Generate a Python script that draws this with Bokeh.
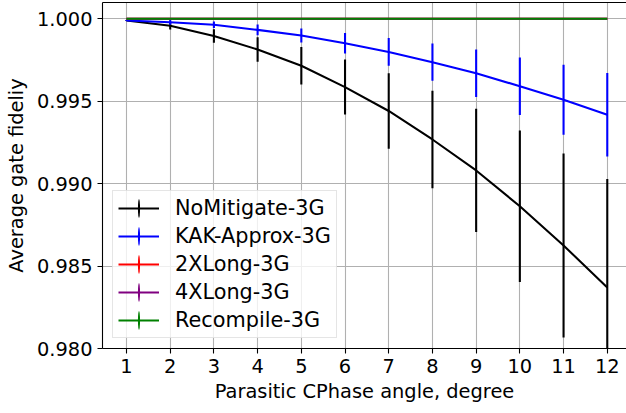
import numpy as np
from bokeh.plotting import figure
from bokeh.models import (ColumnDataSource, Range1d, FixedTicker, PrintfTickFormatter,
                          LinearAxis, Legend, LegendItem)
from bokeh.embed import file_html
from bokeh.resources import INLINE

# Parasitic CPhase angle (degrees)
angles = [1, 2, 3, 4, 5, 6, 7, 8, 9, 10, 11, 12]

# Average gate fidelity (mean) and its spread for each mitigation strategy
nomitigate_mean = [0.99990, 0.99958, 0.99896, 0.99814, 0.99715, 0.99586,
                   0.99441, 0.99268, 0.99080, 0.98863, 0.98625, 0.98370]
nomitigate_err = [0.00003, 0.00023, 0.00041, 0.00074, 0.00114, 0.00167,
                  0.00229, 0.00296, 0.00374, 0.00460, 0.00558, 0.00659]

kak_mean = [0.99990, 0.99979, 0.99964, 0.99933, 0.99899, 0.99852,
            0.99799, 0.99737, 0.99670, 0.99591, 0.99509, 0.99418]
kak_err = [0.00003, 0.00015, 0.00020, 0.00033, 0.00042, 0.00062,
           0.00084, 0.00113, 0.00144, 0.00174, 0.00212, 0.00253]

long2_mean = [1.0, 1.0, 1.0, 1.0, 1.0, 1.0, 1.0, 1.0, 1.0, 1.0, 1.0, 1.0]
long2_err = [0.0, 0.0, 0.0, 0.0, 0.0, 0.0, 0.0, 0.0, 0.0, 0.0, 0.0, 0.0]

long4_mean = [1.0, 1.0, 1.0, 1.0, 1.0, 1.0, 1.0, 1.0, 1.0, 1.0, 1.0, 1.0]
long4_err = [0.0, 0.0, 0.0, 0.0, 0.0, 0.0, 0.0, 0.0, 0.0, 0.0, 0.0, 0.0]

recompile_mean = [1.0, 1.0, 1.0, 1.0, 1.0, 1.0, 1.0, 1.0, 1.0, 1.0, 1.0, 1.0]
recompile_err = [0.0, 0.0, 0.0, 0.0, 0.0, 0.0, 0.0, 0.0, 0.0, 0.0, 0.0, 0.0]

series_names = ["NoMitigate-3G", "KAK-Approx-3G", "2XLong-3G", "4XLong-3G", "Recompile-3G"]
series_colors = ["#000000", "#0000ff", "#ff0000", "#800080", "#008000"]
series_means = [nomitigate_mean, kak_mean, long2_mean, long4_mean, recompile_mean]
series_errs = [nomitigate_err, kak_err, long2_err, long4_err, recompile_err]

y_ticks = [0.980, 0.985, 0.990, 0.995, 1.000]

FONT = "DejaVu Sans"
FS = "19.4px"
LEGEND_FS = "20.8px"
LW = 2.08

p = figure(width=626, height=413, output_backend="svg", toolbar_location=None,
           x_range=Range1d(0.451, 12.44), y_range=Range1d(0.98, 1.00099),
           min_border_left=102, min_border_right=0, min_border_top=2, min_border_bottom=65,
           background_fill_color="white", border_fill_color="white")
p.outline_line_color = None

# grid
for g in (p.xgrid, p.ygrid):
    g.grid_line_color = "#b0b0b0"
    g.grid_line_width = 1.1
p.xgrid.ticker = FixedTicker(ticks=angles)
p.ygrid.ticker = FixedTicker(ticks=y_ticks)

# axes
for ax in (p.xaxis[0], p.yaxis[0]):
    ax.axis_line_color = "black"
    ax.axis_line_width = 1.1
    ax.major_tick_line_color = "black"
    ax.major_tick_line_width = 1.1
    ax.major_tick_out = 5
    ax.major_tick_in = 0
    ax.minor_tick_line_color = None
    ax.major_label_text_font = FONT
    ax.major_label_text_font_size = FS
    ax.major_label_text_color = "black"
    ax.axis_label_text_font = FONT
    ax.axis_label_text_font_size = FS
    ax.axis_label_text_font_style = "normal"
    ax.axis_label_text_color = "black"
    ax.major_label_standoff = 5

p.xaxis[0].ticker = FixedTicker(ticks=angles)
p.xaxis[0].axis_label = "Parasitic CPhase angle, degree"
p.xaxis[0].axis_label_standoff = 4
p.yaxis[0].ticker = FixedTicker(ticks=y_ticks)
p.yaxis[0].formatter = PrintfTickFormatter(format="%.3f")
p.yaxis[0].axis_label = "Average gate fideliy"
p.yaxis[0].axis_label_standoff = 6

# top frame edge
top_axis = LinearAxis(ticker=FixedTicker(ticks=[]), major_tick_out=0, major_tick_in=0,
                      major_label_standoff=0, major_label_text_font_size="0px",
                      axis_line_color="black", axis_line_width=1.1)
p.add_layout(top_axis, "above")

legend_items = []
for name, color, mean, err in zip(series_names, series_colors, series_means, series_errs):
    m = np.array(mean)
    e = np.array(err)
    src = ColumnDataSource(dict(x=angles, y=m, lo=m - e, hi=m + e))
    line_r = p.line("x", "y", source=src, line_color=color, line_width=LW)
    p.segment(x0="x", y0="lo", x1="x", y1="hi", source=src, line_color=color, line_width=LW)
    # sub-pixel ellipse whose aspect gives the legend its vertical error-bar stroke
    bar_r = p.ellipse(x="x", y="y", width=0.11, height=1.0, width_units="screen",
                      height_units="screen", source=src, fill_color=color, line_color=None)
    legend_items.append(LegendItem(label=name, renderers=[line_r, bar_r]))

legend = Legend(items=legend_items, location="bottom_left",
                label_text_font=FONT, label_text_font_size=LEGEND_FS, label_text_color="black",
                glyph_width=41, glyph_height=24, label_height=24, spacing=4,
                padding=5, margin=10, label_standoff=16,
                border_line_color="#cccccc", border_line_width=1.1,
                background_fill_color="white", background_fill_alpha=0.8)
p.add_layout(legend, "center")

open("out.html", "w").write(file_html(p, INLINE))
